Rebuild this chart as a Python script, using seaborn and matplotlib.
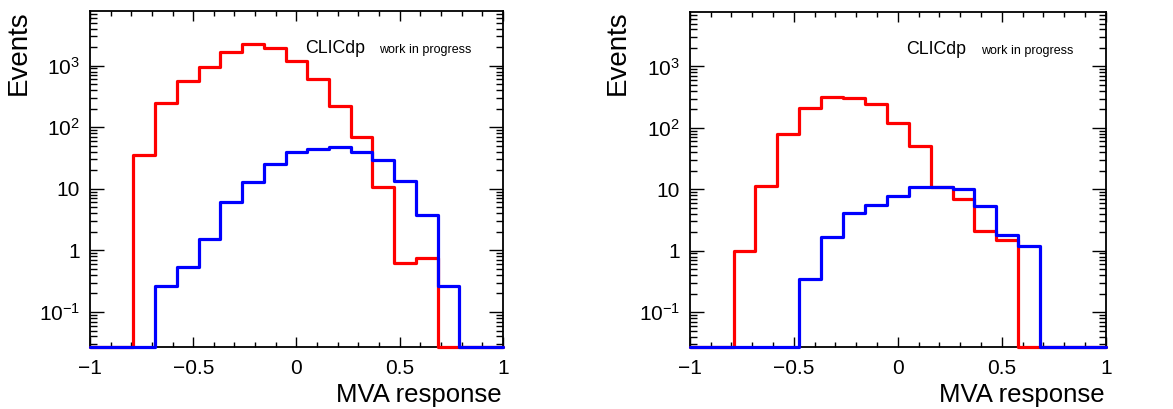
import numpy as np
import pandas as pd
import seaborn as sns
import matplotlib.pyplot as plt
from matplotlib.ticker import FixedLocator, LogLocator, FuncFormatter, MultipleLocator, NullFormatter

# 19 equal bins on [-1, 1]
NBINS = 19
edges = np.linspace(-1, 1, NBINS + 1)

left_sig = [0, 0, 36, 250, 570, 960, 1650, 2220, 1910, 1190, 615, 221, 69, 10.8, 0.63, 0.74, 0, 0, 0]
left_bkg = [0, 0, 0, 0.264, 0.53, 1.51, 6.0, 13.1, 25.3, 39, 44, 47.7, 40, 29.4, 13.2, 3.7, 0.264, 0, 0]
right_sig = [0, 0, 0.97, 11.2, 79, 210, 313, 305, 244, 118, 50, 11.0, 7.0, 2.07, 1.5, 0, 0, 0, 0]
right_bkg = [0, 0, 0, 0, 0, 0.35, 1.64, 4.07, 5.56, 7.7, 10.8, 11.0, 10.1, 5.4, 1.8, 1.21, 0, 0, 0]

YMIN, YMAX = 0.027, 7700

sns.set_style("ticks")
plt.rcParams["font.family"] = ["Liberation Sans", "DejaVu Sans"]
plt.rcParams["mathtext.fontset"] = "custom"
plt.rcParams["mathtext.rm"] = "Liberation Sans"
plt.rcParams["mathtext.it"] = "Liberation Sans:italic"
for key in ["text.color", "axes.labelcolor", "xtick.color", "ytick.color",
            "axes.edgecolor"]:
    plt.rcParams[key] = "black"

fig = plt.figure(figsize=(11.73, 4.09), dpi=100)
ax_l = fig.add_axes([0.0767, 0.1516, 0.352, 0.8215])
ax_r = fig.add_axes([0.588, 0.1516, 0.3547, 0.819])


def ylabel_fmt(v, pos):
    if np.isclose(v, 1):
        return "1"
    if np.isclose(v, 10):
        return "10"
    e = int(round(np.log10(v)))
    return r"$\mathregular{10^{%d}}$" % e


def xlabel_fmt(v, pos):
    return f"{v:g}".replace("-", "\u2212")


def draw_panel(ax, sig, bkg, fig_x_label, x_right):
    centers = 0.5 * (edges[:-1] + edges[1:])
    for vals, color in [(sig, "red"), (bkg, "blue")]:
        # empty bins are drawn on the lower axis edge, as ROOT does
        w = np.clip(np.array(vals, dtype=float), YMIN, None)
        df = pd.DataFrame({"mva": centers, "events": w})
        sns.histplot(data=df, x="mva", weights="events", bins=NBINS,
                     binrange=(-1, 1), element="step", fill=False,
                     color=color, linewidth=2.3, ax=ax, clip_on=False,
                     zorder=3)
    ax.set_yscale("log")
    ax.set_xlim(-1, 1)
    ax.set_ylim(YMIN, YMAX)
    ax.set_xlabel("")
    ax.set_ylabel("")

    ax.xaxis.set_major_locator(FixedLocator([-1, -0.5, 0, 0.5, 1]))
    ax.xaxis.set_minor_locator(MultipleLocator(0.1))
    ax.xaxis.set_major_formatter(FuncFormatter(xlabel_fmt))
    ax.yaxis.set_major_locator(FixedLocator([0.1, 1, 10, 100, 1000]))
    ax.yaxis.set_minor_locator(LogLocator(base=10, subs=np.arange(2, 10), numticks=20))
    ax.yaxis.set_major_formatter(FuncFormatter(ylabel_fmt))
    ax.yaxis.set_minor_formatter(NullFormatter())

    ax.tick_params(which="both", direction="in", top=True, right=True,
                   width=1, color="black", labelcolor="black", labelsize=15)
    ax.tick_params(axis="x", which="major", length=7, pad=9)
    ax.tick_params(axis="x", which="minor", length=3.5)
    ax.tick_params(axis="y", which="major", length=10, pad=7)
    ax.tick_params(axis="y", which="minor", length=5)
    for s in ax.spines.values():
        s.set_visible(True)
        s.set_linewidth(1.3)
        s.set_color("black")

    ax.text(0.52, 0.875, "CLICdp", transform=ax.transAxes, fontsize=12.8,
            va="baseline", ha="left", color="black")
    ax.text(0.70, 0.875, "work in progress", transform=ax.transAxes,
            fontsize=9, va="baseline", ha="left", color="black")

    fig.text(fig_x_label, 0.975, "Events", rotation=90, ha="center",
             va="top", fontsize=20, color="black")
    fig.text(x_right, 0.017, "MVA response", ha="right", va="baseline",
             fontsize=18.5, color="black")


draw_panel(ax_l, left_sig, left_bkg, 19 / 1173, 502 / 1173)
draw_panel(ax_r, right_sig, right_bkg, 618 / 1173, 1105 / 1173)

fig.savefig("out.png", dpi=100)
